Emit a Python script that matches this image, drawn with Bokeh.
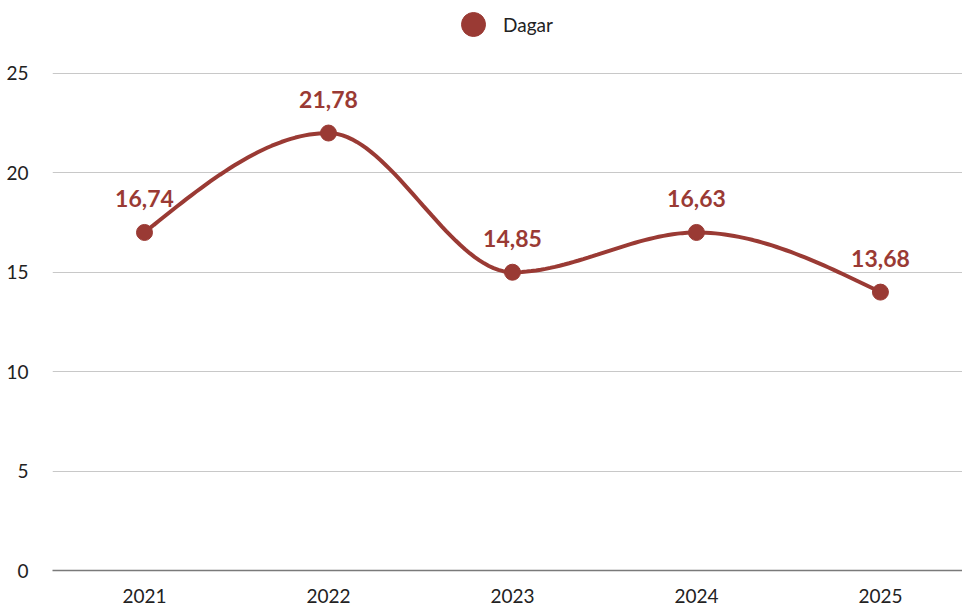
import numpy as np
from bokeh.plotting import figure
from bokeh.models import ColumnDataSource, Legend, LegendItem, FixedTicker, Range1d
from bokeh.core.properties import value
from bokeh.embed import file_html
from bokeh.resources import INLINE

# ---- data ----
years = ["2021", "2022", "2023", "2024", "2025"]
dagar = [17, 22, 15, 17, 14]
labels = ["16,74", "21,78", "14,85", "16,63", "13,68"]
y_ticks = [0, 5, 10, 15, 20, 25]
series_name = "Dagar"

COLOR = "#9a3a34"
FONT = "Lato"

xs = np.arange(len(years), dtype=float)
ys = np.array(dagar, dtype=float)

# monotone cubic (d3 curveMonotoneX style) for the smooth line
def monotone(x, y, n=40):
    h = np.diff(x)
    s = np.diff(y) / h
    t = np.zeros_like(y)
    for i in range(1, len(x) - 1):
        s0, s1 = s[i - 1], s[i]
        p = (s0 * h[i] + s1 * h[i - 1]) / (h[i - 1] + h[i])
        t[i] = (np.sign(s0) + np.sign(s1)) * min(abs(s0), abs(s1), 0.5 * abs(p))
    t[0] = (3 * s[0] - t[1]) / 2
    t[-1] = (3 * s[-1] - t[-2]) / 2
    px, py = [], []
    for i in range(len(x) - 1):
        u = np.linspace(0, 1, n)
        dx = h[i]
        h00 = 2 * u**3 - 3 * u**2 + 1
        h10 = u**3 - 2 * u**2 + u
        h01 = -2 * u**3 + 3 * u**2
        h11 = u**3 - u**2
        px.extend(x[i] + u * dx)
        py.extend(h00 * y[i] + h10 * dx * t[i] + h01 * y[i + 1] + h11 * dx * t[i + 1])
    return px, py

cx, cy = monotone(xs, ys)

src = ColumnDataSource(dict(x=xs, y=ys, lab=labels))

# frame spans from the top of the canvas; 25 sits 65px below the frame top
p = figure(width=962, height=605, output_backend="svg", toolbar_location=None,
           x_range=Range1d(-0.5, 4.446), y_range=Range1d(0, 25 * 563 / 498),
           min_border_left=52, min_border_right=0, min_border_top=8, min_border_bottom=34)
p.outline_line_color = None
p.background_fill_color = "white"

p.line(cx, cy, line_color=COLOR, line_width=4)
r = p.scatter("x", "y", source=src, size=16, fill_color=COLOR, line_color=COLOR)
p.text("x", "y", text="lab", source=src, text_align="center", text_baseline="bottom",
       y_offset=-25, text_color=COLOR, text_font=value(FONT), text_font_style="bold",
       text_font_size="23px")

# legend
legend = Legend(items=[LegendItem(label=series_name, renderers=[r], index=0)],
                location=(391, 516), orientation="horizontal",
                glyph_width=60, glyph_height=60, label_standoff=-8,
                padding=0, margin=0, border_line_color=None, background_fill_alpha=0,
                label_text_font=FONT, label_text_font_size="19px", label_text_color="#222222")
p.add_layout(legend)

# axes
p.xaxis.ticker = FixedTicker(ticks=list(xs))
p.xaxis.major_label_overrides = {i: y for i, y in enumerate(years)}
p.yaxis.ticker = FixedTicker(ticks=y_ticks)
for ax in (p.xaxis[0], p.yaxis[0]):
    ax.major_tick_line_color = None
    ax.minor_tick_line_color = None
    ax.major_label_text_font = FONT
    ax.major_label_text_font_size = "19px"
    ax.major_label_text_color = "#222222"
p.yaxis.axis_line_color = None
p.yaxis.major_label_standoff = 18
p.xaxis.axis_line_color = "#7a7a7a"
p.xaxis.axis_line_width = 1.5
p.xaxis.major_label_standoff = 12

p.xgrid.grid_line_color = None
p.ygrid.grid_line_color = "#c8c8c8"
p.ygrid.grid_line_width = 1.2

open("out.html", "w").write(file_html(p, INLINE))
